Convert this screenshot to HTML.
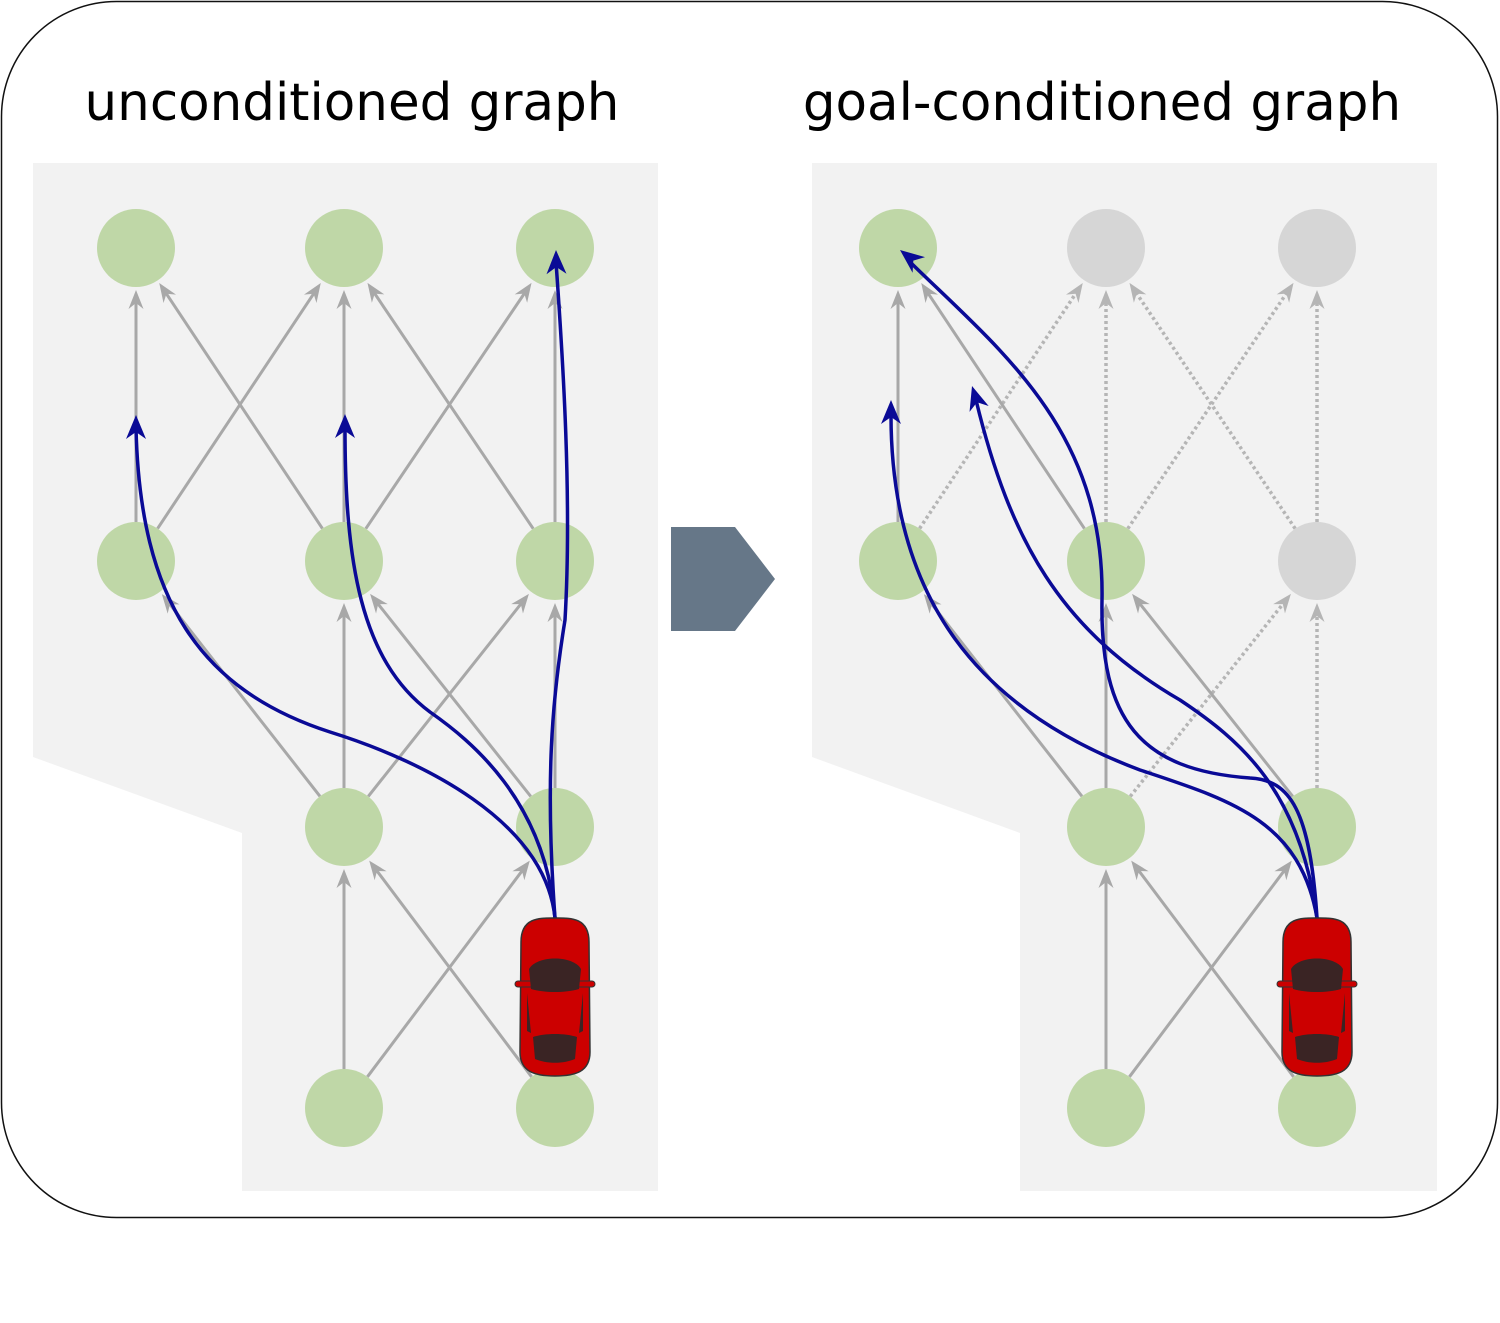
<!DOCTYPE html>
<html><head><meta charset="utf-8">
<style>
html,body{margin:0;padding:0;background:#fff;}
svg{display:block;}
text{font-family:"DejaVu Sans","Liberation Sans",sans-serif;}
</style></head>
<body>
<svg id="fig" width="1500" height="1323" viewBox="0 0 1500 1323">
<rect x="1.5" y="1.5" width="1496" height="1216" rx="115" ry="115" fill="#fff" stroke="#111" stroke-width="1.5"/>
<text x="352" y="120" font-size="51.5" text-anchor="middle" fill="#000">unconditioned graph</text>
<text x="1102" y="120" font-size="51.5" text-anchor="middle" fill="#000">goal-conditioned graph</text>
<polygon points="33,163 658,163 658,1191 242,1191 242,833 33,757" fill="#f2f2f2"/>
<polygon points="812,163 1437,163 1437,1191 1020,1191 1020,833 812,757" fill="#f2f2f2"/>
<polygon points="671,527 735,527 775,579 735,631 671,631" fill="#667788"/>
<g id="edges"></g>
<g id="nodes"></g>
<g id="paths"></g>
<g id="cars"></g>
</svg>
<script>
const NS="http://www.w3.org/2000/svg";
const cols=[136,344,555];
const rows=[248,561,827,1108];
const offset=[0,762];
const leftNodes=[[0,0],[1,0],[2,0],[0,1],[1,1],[2,1],[1,2],[2,2],[1,3],[2,3]];
const rightNodes=leftNodes;
const rightGrey=[[1,0],[2,0],[2,1]];
const edgesList=[[0,1,0,0],[0,1,1,0],[1,1,0,0],[1,1,1,0],[1,1,2,0],[2,1,1,0],[2,1,2,0],
[1,2,0,1],[1,2,1,1],[1,2,2,1],[2,2,1,1],[2,2,2,1],
[1,3,1,2],[1,3,2,2],[2,3,1,2]];
const R=39;
function mk(tag,attrs,parent){const e=document.createElementNS(NS,tag);for(const k in attrs)e.setAttribute(k,attrs[k]);parent.appendChild(e);return e;}
const eg=document.getElementById('edges'),ng=document.getElementById('nodes'),pg=document.getElementById('paths'),cg=document.getElementById('cars');
function isGrey(c,r){return rightGrey.some(g=>g[0]===c&&g[1]===r);}
offset.forEach((off,side)=>{
  edgesList.forEach(ed=>{
    const x1=cols[ed[0]]+off,y1=rows[ed[1]],x2=cols[ed[2]]+off,y2=rows[ed[3]];
    const dx=x2-x1,dy=y2-y1,L=Math.hypot(dx,dy),ux=dx/L,uy=dy/L;
    const sx=x1+ux*R,sy=y1+uy*R,ex=x2-ux*(R+3),ey=y2-uy*(R+3);
    const dotted=side===1&&(isGrey(ed[2],ed[3])||isGrey(ed[0],ed[1]));
    const col=dotted?"#b5b5b5":"#a8a8a8";
    const ln=mk('line',{x1:sx,y1:sy,x2:ex-ux*10,y2:ey-uy*10,stroke:col,'stroke-width':dotted?3.5:3,'stroke-dasharray':dotted?'3 3':'none'},eg);
    
    
    const px=-uy,py=ux;
    const ah=mk('polygon',{points:`${ex},${ey} ${ex-ux*19+px*7.5},${ey-uy*19+py*7.5} ${ex-ux*13},${ey-uy*13} ${ex-ux*19-px*7.5},${ey-uy*19-py*7.5}`,fill:col},eg);
    
    
  });
  (side?rightNodes:leftNodes).forEach(n=>{
    const grey=side===1&&isGrey(n[0],n[1]);
    const c=mk('circle',{cx:cols[n[0]]+off,cy:rows[n[1]],r:R,fill:grey?"#d6d6d6":"#bfd7a7"},ng);
    
    
  });
});
const bluePaths=[
"M555,918 C545,820 420,760 330,732 C200,690 140,600 136,428",
"M555,918 C545,800 470,740 430,712 C360,660 345,560 345,428",
"M555,918 C545,780 552,700 565,620 C572,500 563,360 556,262",
"M1317,918 C1300,820 1230,800 1140,770 C980,710 890,600 891,412",
"M1317,918 C1310,810 1290,780 1250,778 C1140,770 1100,720 1102,600 C1105,430 1000,350 910,262",
"M1317,918 C1300,790 1240,740 1180,700 C1060,630 1010,540 976,400"
];
const tips=[[136,415,0],[345,414,0],[556,250,-0.02],[891,400,0],[900,250,-0.9],[972,386,-0.3]];
bluePaths.forEach((d,i)=>{
  const p=mk('path',{d:d,fill:'none',stroke:'#0a0a96','stroke-width':3.5},pg);
  
  
  const t=tips[i];
  const g=mk('g',{transform:`translate(${t[0]},${t[1]}) rotate(${t[2]*57.3})`},pg);
  mk('polygon',{points:"0,0 -10,24 0,17 10,24",fill:'#0a0a96'},g);
  
  
});
[555,1317].forEach(cx=>{
  const g=mk('g',{transform:`translate(${cx},997)`},cg);
  
  
  mk('path',{d:"M-34,-55 C-34,-80 -15,-79 0,-79 C15,-79 34,-80 34,-55 L35,55 C35,75 20,79 0,79 C-20,79 -35,75 -35,55 Z",fill:'#cc0000',stroke:'#333','stroke-width':1.5},g);
  mk('rect',{x:-40,y:-16,width:80,height:6,rx:3,fill:'#cc0000',stroke:'#333','stroke-width':1},g);
  mk('path',{d:"M-26,-28 C-18,-42 18,-42 26,-28 L24,-8 C10,-4 -10,-4 -24,-8 Z",fill:'#3a2424'},g);
  mk('path',{d:"M-22,40 C-10,36 10,36 22,40 L20,62 C8,67 -8,67 -20,62 Z",fill:'#3a2424'},g);
  mk('path',{d:"M-28,-4 L-24,36 L-28,34 Z",fill:'#3a2424'},g);
  mk('path',{d:"M28,-4 L24,36 L28,34 Z",fill:'#3a2424'},g);
});
</script>
</body></html>
